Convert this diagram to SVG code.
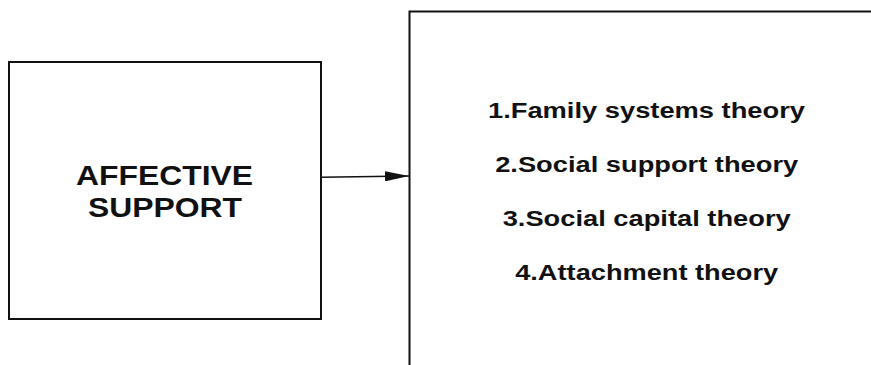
<svg xmlns="http://www.w3.org/2000/svg" width="871" height="365" viewBox="0 0 871 365">
<style>
.box{fill:#fff;stroke:#111;stroke-width:2}
.t{font-family:"Liberation Sans",Arial,sans-serif;font-weight:bold;fill:#111;text-anchor:middle}
.big{font-size:27px}
.sm{font-size:22px}
.con{stroke:#111;stroke-width:1.6;fill:none}
</style>
<defs>
<marker id="ah" markerWidth="24" markerHeight="10" refX="24" refY="5" orient="auto" markerUnits="userSpaceOnUse">
<path d="M0,0 L24,5 L0,10 Z" fill="#111"/>
</marker>
</defs>
<rect width="871" height="365" fill="#fff"/>
<g id="affective-support">
<rect class="box" x="9" y="62" width="312" height="257"/>
<text class="t big" x="164.5" y="184.5" textLength="177" lengthAdjust="spacingAndGlyphs">AFFECTIVE</text>
<text class="t big" x="165" y="216.5" textLength="154" lengthAdjust="spacingAndGlyphs">SUPPORT</text>
</g>
<g id="theories">
<rect class="box" x="409.5" y="11.5" width="470" height="370"/>
<text class="t sm" x="646.5" y="117.5" textLength="317" lengthAdjust="spacingAndGlyphs">1.Family systems theory</text>
<text class="t sm" x="646.7" y="171.5" textLength="303" lengthAdjust="spacingAndGlyphs">2.Social support theory</text>
<text class="t sm" x="646.7" y="225.5" textLength="288" lengthAdjust="spacingAndGlyphs">3.Social capital theory</text>
<text class="t sm" x="646.7" y="279.5" textLength="263" lengthAdjust="spacingAndGlyphs">4.Attachment theory</text>
</g>
<g id="connectors">
<line class="con" x1="321" y1="177.3" x2="409" y2="176" marker-end="url(#ah)"/>
</g>
</svg>
